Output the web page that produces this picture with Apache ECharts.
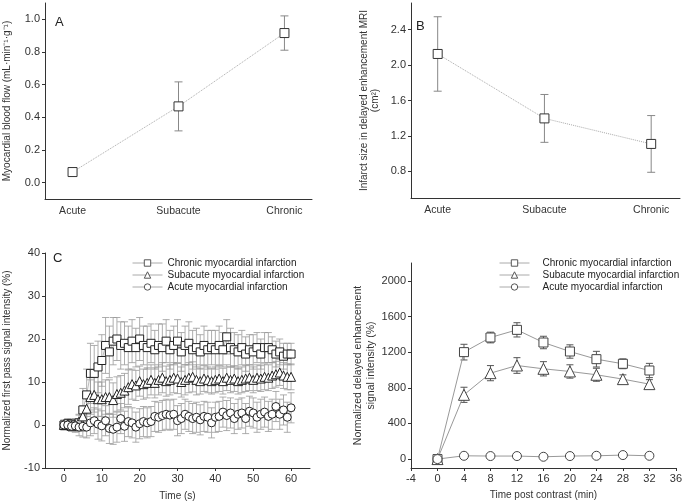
<!DOCTYPE html>
<html><head><meta charset="utf-8">
<script src="https://cdn.jsdelivr.net/npm/echarts@6/dist/echarts.min.js"></script>
<style>html,body{margin:0;padding:0;background:#fff}#c{width:685px;height:503px}</style>
</head><body><div id="c"></div>
<script>
// ---- Data ----
const stages = ['Acute', 'Subacute', 'Chronic'];
const flowMean = [0.065, 0.467, 0.916];
const flowErr = [0.012, 0.15, 0.105];
const sizeMean = [2.125, 1.398, 1.11];
const sizeErr = [0.42, 0.27, 0.32];

const seriesNames = ['Chronic myocardial infarction', 'Subacute myocardial infarction', 'Acute myocardial infarction'];

const timeC = [0,1,2,3,4,5,6,7,8,9,10,11,12,13,14,15,16,17,18,19,20,21,22,23,24,25,26,27,28,29,30,31,32,33,34,35,36,37,38,39,40,41,42,43,44,45,46,47,48,49,50,51,52,53,54,55,56,57,58,59,60];
const chronicC = [0,0.3,0.2,0,0.5,3.5,7,12,12,13.5,15,18.5,17,19.5,20,18.5,19,18,19.5,18,20,18.5,18,19,17.5,18.5,18,19.5,17.5,18.5,19.5,17,18.5,19,17.5,18,17,18.5,17.5,18,17.5,18.5,17.5,20.5,18,17.5,17,18,16.5,17.5,17,18,16.5,18,18,17.5,16.5,17,16,16.5,16.5];
const chronicCErr = [1.2,1.2,1.2,1.5,2,5,6,7,6.5,6,6,6.5,6,5.5,5,5.5,5,5,5,4.5,5,4.5,5,4.5,4.5,5,5.5,5,4.5,4.5,5,4.5,4.5,5,4.5,4.5,4,4.5,4.5,4,4.5,4.5,4,4,4.5,4,4,4,4,3.5,4,3.5,3.5,3.5,3.5,3,3,3,3,2.5,2.5];
const subacuteC = [0,0.2,-0.2,0,0.8,2,3.8,6.5,7,6,6,6.5,6.5,5.8,7.2,7.5,8,8.8,9.5,9.2,10.2,9.5,9.8,10.5,9.8,10.5,11,10.2,10.5,11,10.8,10,10.5,11,11.2,10.5,10.2,10.8,10.5,10.2,10.5,10.8,10.2,11,10.5,10.8,10.2,10.5,10.8,11,10.5,11,10.8,11.2,11,11.5,11.8,12.2,11.5,11.2,11.2];
const subacuteCErr = [1,1,1,1.2,1.5,2.5,3.5,4,4,4,4,4,4,4,4,4,4,4,3.5,3.5,3.5,3.5,3.5,3.5,3.5,3.5,3.5,3.5,3.5,3.5,3.5,3.5,3.5,3.5,3.5,3.5,3,3,3,3,3,3,3,3,3,3,3,3,3,3,3,3,3,3,3,3,3,3,3,3,3];
const acuteC = [0,0,-0.3,-0.2,-0.5,-0.3,-0.5,0.5,1,0.2,-0.2,1,-0.8,-1,-0.5,1.5,-0.3,0.8,0.5,-0.5,0.3,0.8,0.5,0.8,2,1.8,2.2,2.5,2.3,2.5,1,1.5,2.5,2,1.5,1.8,1.2,2,1.8,0.5,1.8,2,3,2.2,2.8,1.5,2.5,2.8,1.5,3.2,2.8,1.8,2.5,3,2,2.5,4.3,2.5,3.5,1.8,4];
const acuteCErr = [1,1,1.2,1.5,2,2.5,2.5,3,3,3.5,3.5,3.5,3.5,3.5,3.5,3.5,3.5,3.5,3.5,3.5,3.5,3.5,3.5,3.5,3.5,3.5,3.5,3.5,3.5,3.5,3.5,3.5,3.5,3.5,3.5,3.5,3.5,3.5,3.5,3.5,3.5,3.5,3.5,3.5,3.5,3.5,3.5,3.5,3.5,3.5,3.5,3.5,3.5,3.5,3.5,3.5,3.5,3.5,3.5,3.5,3.5];

const timeD = [0,4,8,12,16,20,24,28,32];
const chronicD = [0,1200,1364,1450,1308,1207,1121,1069,994];
const chronicDErr = [15,88,60,80,70,75,88,55,80];
const subacuteD = [0,721,964,1050,1013,983,946,897,841];
const subacuteDErr = [15,85,85,88,80,75,73,48,50];
const acuteD = [0,37,34,34,26,34,37,45,37];
const acuteDErr = [15,15,15,15,15,15,15,15,15];

const ticksA = [0,0.2,0.4,0.6,0.8,1.0];
const ticksB = [0.8,1.2,1.6,2.0,2.4];
const ticksCx = [0,10,20,30,40,50,60];
const ticksDy = [0,400,800,1200,1600,2000];

// ---- Helpers ----
const FONT = 'Liberation Sans, Arial, sans-serif';
const axisCol = '#333';
function pairs(xs, ys){ return xs.map((x,i)=>[x, ys[i]]); }
function errData(xs, ys, es){ return xs.map((x,i)=>[x, ys[i]-es[i], ys[i]+es[i]]); }
function errSeries(xi, data, col, cap, lw){
  return {
    type:'custom', xAxisIndex:xi, yAxisIndex:xi, z:1, silent:true,
    encode:{x:0, y:[1,2]}, data:data,
    renderItem:function(params, api){
      const x = api.value(0), lo = api.value(1), hi = api.value(2);
      const p1 = api.coord([x, hi]), p2 = api.coord([x, lo]);
      const st = {stroke:col, lineWidth:lw};
      return {type:'group', children:[
        {type:'line', shape:{x1:p1[0], y1:p1[1], x2:p2[0], y2:p2[1]}, style:st},
        {type:'line', shape:{x1:p1[0]-cap, y1:p1[1], x2:p1[0]+cap, y2:p1[1]}, style:st},
        {type:'line', shape:{x1:p2[0]-cap, y1:p2[1], x2:p2[0]+cap, y2:p2[1]}, style:st}
      ]};
    }
  };
}
function baseAxis(extra){
  return Object.assign({
    type:'value', splitLine:{show:false},
    axisLine:{show:true, onZero:false, lineStyle:{color:axisCol, width:1}},
    axisTick:{show:true, length:3, lineStyle:{color:axisCol}},
    axisLabel:{color:'#333', fontFamily:FONT, fontSize:11, margin:5},
    nameTextStyle:{color:'#333', fontFamily:FONT, fontSize:10, lineHeight:12},
    nameLocation:'middle'
  }, extra);
}
const legendCommon = {
  orient:'vertical', itemGap:0, itemWidth:30, itemHeight:8, selectedMode:false,
  itemStyle:{borderWidth:1, color:'#fff', borderColor:'#555'},
  lineStyle:{width:1, color:'#aaa'}
};

const chart = echarts.init(document.getElementById('c'), null, {renderer:'canvas'});

const option = {
  animation:false,
  backgroundColor:'#fff',
  grid:[
    {left:43, top:3, width:269, height:196},
    {left:411, top:3, width:269, height:195},
    {left:43, top:253, width:267, height:215},
    {left:411, top:263, width:269, height:205}
  ],
  xAxis:[
    baseAxis({gridIndex:0, min:-0.26, max:2.26, axisTick:{show:false},
      axisLabel:{customValues:[0,1,2], formatter:v=>stages[Math.round(v)], color:'#333', fontFamily:FONT, fontSize:10.5, margin:7}}),
    baseAxis({gridIndex:1, min:-0.25, max:2.27, axisTick:{show:false},
      axisLabel:{customValues:[0,1,2], formatter:v=>stages[Math.round(v)], color:'#333', fontFamily:FONT, fontSize:10.5, margin:7}}),
    baseAxis({gridIndex:2, min:-5, max:65, name:'Time (s)', nameGap:22,
      axisTick:{show:true, length:3, customValues:ticksCx, lineStyle:{color:axisCol}},
      axisLabel:{customValues:ticksCx, color:'#333', fontFamily:FONT, fontSize:11, margin:5}}),
    baseAxis({gridIndex:3, min:-4, max:36, interval:4, name:'Time post contrast (min)', nameGap:21,
      axisLabel:{color:'#333', fontFamily:FONT, fontSize:11, margin:5}})
  ],
  yAxis:[
    baseAxis({gridIndex:0, min:-0.1, max:1.1, name:'Myocardial blood flow (mL·min⁻¹·g⁻¹)', nameGap:32,
      axisTick:{show:true, length:3, customValues:ticksA, lineStyle:{color:axisCol}},
      axisLabel:{customValues:ticksA, formatter:v=>v.toFixed(1), color:'#333', fontFamily:FONT, fontSize:11, margin:5}}),
    baseAxis({gridIndex:1, min:0.5, max:2.7, name:'Infarct size in delayed enhancement MRI\n(cm²)', nameGap:30,
      axisTick:{show:true, length:3, customValues:ticksB, lineStyle:{color:axisCol}},
      axisLabel:{customValues:ticksB, formatter:v=>v.toFixed(1), color:'#333', fontFamily:FONT, fontSize:11, margin:5},
      nameTextStyle:{color:'#333', fontFamily:FONT, fontSize:10, lineHeight:11}}),
    baseAxis({gridIndex:2, min:-10, max:40, interval:10, name:'Normalized first pass signal intensity (%)', nameGap:32}),
    baseAxis({gridIndex:3, min:-100, max:2200, name:'Normalized delayed enhancement\nsignal intensity (%)', nameGap:33,
      axisTick:{show:true, length:3, customValues:ticksDy, lineStyle:{color:axisCol}},
      axisLabel:{customValues:ticksDy, formatter:v=>String(v), color:'#333', fontFamily:FONT, fontSize:11, margin:5},
      nameTextStyle:{color:'#333', fontFamily:FONT, fontSize:10.5, lineHeight:13}})
  ],
  legend:[
    Object.assign({data:seriesNames, left:127, top:252,
      textStyle:{color:'#222', fontFamily:FONT, fontSize:10, lineHeight:12}}, legendCommon),
    Object.assign({data:seriesNames, left:494, top:252,
      textStyle:{color:'#222', fontFamily:FONT, fontSize:10, lineHeight:12, padding:[0,0,0,8]}}, legendCommon)
  ],
  graphic:[
    {type:'text', left:55, top:16, style:{text:'A', font:'13px '+FONT, fill:'#222'}},
    {type:'text', left:416, top:20, style:{text:'B', font:'13px '+FONT, fill:'#222'}},
    {type:'text', left:53, top:252, style:{text:'C', font:'13px '+FONT, fill:'#222'}}
  ],
  series:[
    // Panel A
    errSeries(0, errData([0,1,2], flowMean, flowErr), '#888', 4, 1),
    {type:'line', xAxisIndex:0, yAxisIndex:0, z:3, data:pairs([0,1,2], flowMean),
      symbol:'rect', symbolSize:9, lineStyle:{color:'#aaa', width:1, type:'dotted'},
      itemStyle:{color:'#fff', borderColor:'#333', borderWidth:1}},
    // Panel B
    errSeries(1, errData([0,1,2], sizeMean, sizeErr), '#888', 4, 1),
    {type:'line', xAxisIndex:1, yAxisIndex:1, z:3, data:pairs([0,1,2], sizeMean),
      symbol:'rect', symbolSize:9, lineStyle:{color:'#aaa', width:1, type:'dotted'},
      itemStyle:{color:'#fff', borderColor:'#333', borderWidth:1}},
    // Panel C
    errSeries(2, errData(timeC, chronicC, chronicCErr), '#999', 3.5, 0.8),
    errSeries(2, errData(timeC, subacuteC, subacuteCErr), '#999', 3.5, 0.8),
    errSeries(2, errData(timeC, acuteC, acuteCErr), '#999', 3.5, 0.8),
    {name:seriesNames[0], type:'line', xAxisIndex:2, yAxisIndex:2, z:3, data:pairs(timeC, chronicC),
      symbol:'rect', symbolSize:8, lineStyle:{color:'#aaa', width:0.8},
      itemStyle:{color:'#fff', borderColor:'#222', borderWidth:1}},
    {name:seriesNames[1], type:'line', xAxisIndex:2, yAxisIndex:2, z:3, data:pairs(timeC, subacuteC),
      symbol:'triangle', symbolSize:9, lineStyle:{color:'#aaa', width:0.8},
      itemStyle:{color:'#fff', borderColor:'#222', borderWidth:1}},
    {name:seriesNames[2], type:'line', xAxisIndex:2, yAxisIndex:2, z:3, data:pairs(timeC, acuteC),
      symbol:'circle', symbolSize:8, lineStyle:{color:'#aaa', width:0.8},
      itemStyle:{color:'#fff', borderColor:'#222', borderWidth:1}},
    // Panel D
    errSeries(3, errData(timeD, chronicD, chronicDErr), '#555', 3.5, 1),
    errSeries(3, errData(timeD, subacuteD, subacuteDErr), '#555', 3.5, 1),
    errSeries(3, errData(timeD, acuteD, acuteDErr), '#555', 3.5, 1),
    {name:seriesNames[0], type:'line', xAxisIndex:3, yAxisIndex:3, z:3, data:pairs(timeD, chronicD),
      symbol:'rect', symbolSize:9, lineStyle:{color:'#999', width:1},
      itemStyle:{color:'#fff', borderColor:'#444', borderWidth:1}},
    {name:seriesNames[1], type:'line', xAxisIndex:3, yAxisIndex:3, z:3, data:pairs(timeD, subacuteD),
      symbol:'triangle', symbolSize:11, lineStyle:{color:'#999', width:1},
      itemStyle:{color:'#fff', borderColor:'#444', borderWidth:1}},
    {name:seriesNames[2], type:'line', xAxisIndex:3, yAxisIndex:3, z:3, data:pairs(timeD, acuteD),
      symbol:'circle', symbolSize:9, lineStyle:{color:'#999', width:1},
      itemStyle:{color:'#fff', borderColor:'#444', borderWidth:1}}
  ]
};
chart.setOption(option);
</script></body></html>
